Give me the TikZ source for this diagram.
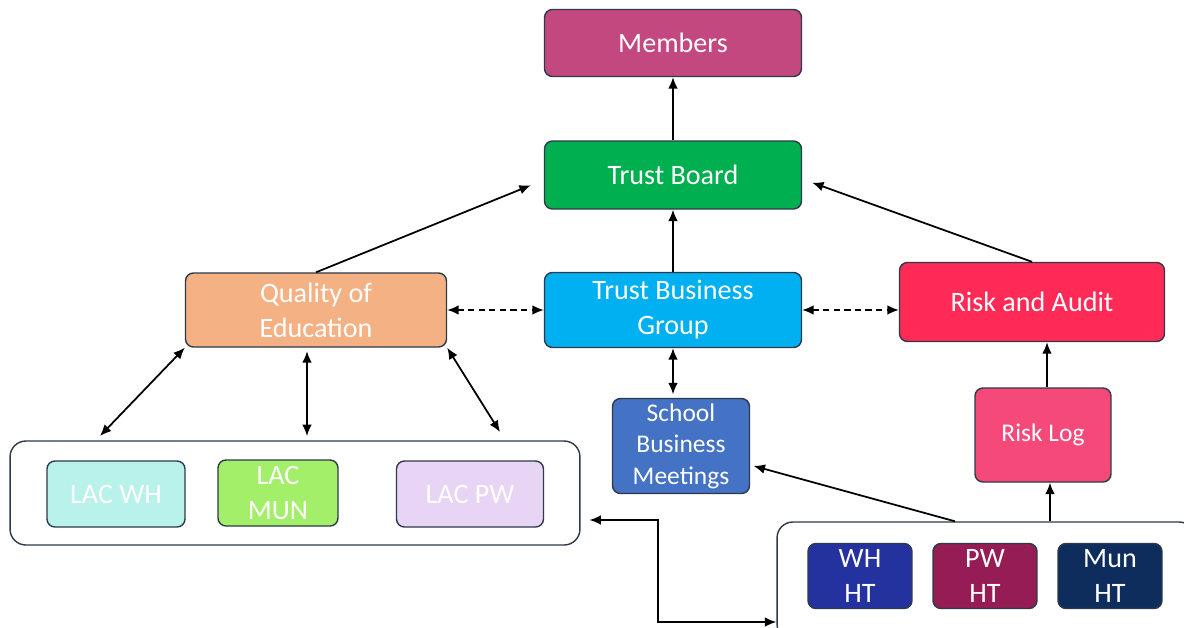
\documentclass[tikz,border=0pt]{standalone}
\usepackage{fontspec}
\setmainfont{Carlito}
\usetikzlibrary{positioning,arrows.meta,calc}

\definecolor{edgecol}{HTML}{2E3A4A}
\definecolor{memcol}{HTML}{C2487F}
\definecolor{boardcol}{HTML}{00B050}
\definecolor{tbgcol}{HTML}{00B0F0}
\definecolor{qoecol}{HTML}{F4B183}
\definecolor{auditcol}{HTML}{FF2A55}
\definecolor{sbmcol}{HTML}{4472C4}
\definecolor{logcol}{HTML}{F5497A}
\definecolor{whcol}{HTML}{B8F2EA}
\definecolor{muncol}{HTML}{A3EF69}
\definecolor{pwcol}{HTML}{E8D5F5}
\definecolor{whhtcol}{HTML}{2432A0}
\definecolor{pwhtcol}{HTML}{961C55}
\definecolor{munhtcol}{HTML}{0F2D5C}

\begin{document}
\begin{tikzpicture}[x=0.02cm,y=-0.02cm]
  \tikzset{block/.style = {shape=rectangle, draw=edgecol, line width=0.8pt, rounded corners=4.5pt, text=white, align=center, inner sep=0pt, font=\fontsize{16pt}{20pt}\selectfont}} % box style
  \tikzset{group/.style = {shape=rectangle, draw=edgecol, line width=0.8pt, rounded corners=9pt, fill=white}}
  \tikzset{link/.style = {line width=1pt, -{Latex[length=6.5pt,width=5.5pt]}}}
  \tikzset{twolink/.style = {line width=1pt, {Latex[length=6.5pt,width=5.5pt]}-{Latex[length=6.5pt,width=5.5pt]}}}

  \useasboundingbox (0,0) rectangle (1184,627);
  \clip (0,0) rectangle (1184,627);
  \fill[white] (0,0) rectangle (1184,627);

  % groups
  \node[group, minimum width=11.4cm, minimum height=2.08cm] (lacbox) at (295,493) {};
  \node[group, minimum width=8.36cm, minimum height=2.36cm] (htbox) at (986,581) {};

  % nodes
  \node[block, fill=memcol, minimum width=5.14cm, minimum height=1.34cm] (members) at (673,43) {Members};
  \node[block, fill=boardcol, minimum width=5.14cm, minimum height=1.36cm] (board) at (673,175) {Trust Board};
  \node[block, fill=tbgcol, minimum width=5.14cm, minimum height=1.5cm] (tbg) at (673,310) {Trust Business\\Group};
  \node[block, fill=qoecol, minimum width=5.22cm, minimum height=1.48cm] (qoe) at (316,310) {Quality of\\Education};
  \node[block, fill=auditcol, minimum width=5.3cm, minimum height=1.58cm] (audit) at (1032,302) {Risk and Audit};
  \node[block, fill=sbmcol, minimum width=2.74cm, minimum height=1.9cm, font=\fontsize{14.5pt}{18pt}\selectfont] (sbm) at (681,446) {School\\Business\\Meetings};
  \node[block, fill=logcol, minimum width=2.72cm, minimum height=1.88cm, font=\fontsize{14.5pt}{18pt}\selectfont] (risklog) at (1043,435) {Risk Log};

  \node[block, fill=whcol, minimum width=2.76cm, minimum height=1.32cm] (lacwh) at (116,494) {LAC WH};
  \node[block, fill=muncol, minimum width=2.4cm, minimum height=1.32cm] (lacmun) at (278,493) {LAC\\MUN};
  \node[block, fill=pwcol, minimum width=2.94cm, minimum height=1.32cm] (lacpw) at (470,494) {LAC PW};

  \node[block, fill=whhtcol, minimum width=2.08cm, minimum height=1.3cm] (whht) at (860,576) {WH\\HT};
  \node[block, fill=pwhtcol, minimum width=2.08cm, minimum height=1.3cm] (pwht) at (985,576) {PW\\HT};
  \node[block, fill=munhtcol, minimum width=2.08cm, minimum height=1.3cm] (munht) at (1110,576) {Mun\\HT};

  % free ends
  \coordinate (l1) at (100,436);
  \coordinate (l2) at (307,436);
  \coordinate (l3) at (500,432);
  \coordinate (e1) at (658,520);
  \coordinate (e2) at (658,622);

  % edges
  \draw[link] (board) -- (members);
  \draw[link] (tbg) -- (board);
  \draw[link, shorten >=8pt] (qoe.north) -- ($(board.west)+(0,5)$);
  \draw[link, shorten >=6pt] (audit.north) -- ($(board.east)+(0,4)$);
  \draw[twolink, dash pattern=on 3.5pt off 2.5pt] (qoe.east) -- (tbg.west);
  \draw[twolink, dash pattern=on 3.5pt off 2.5pt] (tbg.east) -- (tbg.east -| audit.west);
  \draw[twolink, shorten >=2pt] (tbg.south) -- (tbg.south |- sbm.north);
  \draw[twolink] (qoe.south west) -- (l1);
  \draw[twolink, shorten <=2pt] (qoe.south -| l2) -- (l2);
  \draw[twolink] (qoe.south east) -- (l3);
  \draw[link, shorten >=2pt] ($(htbox.north)+(-31,0)$) -- ($(sbm.east)+(0,19)$);
  \draw[link] ($(htbox.north)+(64,0)$) -- ($(risklog.south)+(7,0)$);
  \draw[link] ($(risklog.north)+(4,0)$) -- ($(audit.south)+(15,0)$);
  \draw[twolink, shorten <=5pt] ($(lacbox.east)+(0,27)$) -- (e1) -- (e2) -- (e2 -| htbox.west);

\end{tikzpicture}
\end{document}
